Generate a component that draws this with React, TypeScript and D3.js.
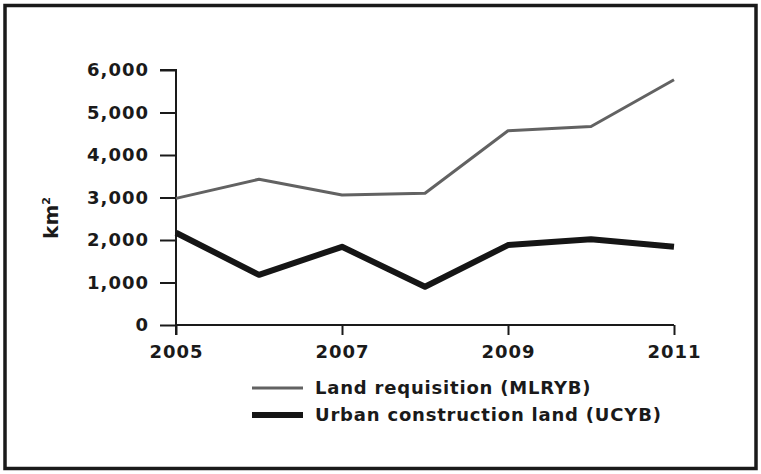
import React, { useEffect, useRef } from "react";
import * as d3 from "d3";

// values (km2)
const years = [2005, 2006, 2007, 2008, 2009, 2010, 2011];
const landRequisition = [2980, 3430, 3060, 3100, 4570, 4670, 5770];
const urbanConstruction = [2170, 1180, 1840, 900, 1880, 2020, 1840];
const yTicks = [0, 1000, 2000, 3000, 4000, 5000, 6000];
const xTicks = [2005, 2007, 2009, 2011];
const seriesNames = ["Land requisition (MLRYB)", "Urban construction land (UCYB)"];

const W = 761;
const H = 474;
const FONT = "'DejaVu Sans', sans-serif";

function App() {
  const ref = useRef<SVGSVGElement>(null);

  useEffect(() => {
    const svg = d3.select(ref.current);
    svg.selectAll("*").remove();

    svg.append("rect").attr("width", W).attr("height", H).attr("fill", "#fff");

    // outer frame of the figure
    svg
      .append("rect")
      .attr("x", 5)
      .attr("y", 5.5)
      .attr("width", 751)
      .attr("height", 463)
      .attr("fill", "none")
      .attr("stroke", "#1a1a1a")
      .attr("stroke-width", 3.5);

    const x = d3.scaleLinear().domain([2005, 2011]).range([176, 674]);
    const y = d3.scaleLinear().domain([0, 6000]).range([325, 70]);

    const styleText = (sel: any) =>
      sel
        .attr("font-family", FONT)
        .attr("font-weight", "bold")
        .attr("font-size", 18)
        .attr("letter-spacing", 1)
        .attr("fill", "#1a1a1a");

    // y axis
    const yAxis = svg
      .append("g")
      .attr("transform", `translate(${x(2005)},0)`)
      .call(
        d3
          .axisLeft(y)
          .tickValues(yTicks)
          .tickSize(16)
          .tickPadding(11)
          .tickFormat(d3.format(","))
      );
    yAxis.select(".domain").attr("stroke", "#1a1a1a").attr("stroke-width", 2).attr("d", `M-16,${y(6000)}H0V${y(0) + 10}`);
    yAxis.selectAll(".tick line").attr("stroke", "#1a1a1a").attr("stroke-width", 2);
    styleText(yAxis.selectAll("text"));

    // x axis
    const xAxis = svg
      .append("g")
      .attr("transform", `translate(0,${y(0)})`)
      .call(
        d3
          .axisBottom(x)
          .tickValues(xTicks)
          .tickSize(10)
          .tickPadding(10)
          .tickFormat(d3.format("d"))
      );
    xAxis.select(".domain").attr("stroke", "#1a1a1a").attr("stroke-width", 2).attr("d", `M${x(2005)},0H${x(2011)}`);
    xAxis.selectAll(".tick line").attr("stroke", "#1a1a1a").attr("stroke-width", 2);
    styleText(xAxis.selectAll("text"));

    // y label km²
    const yl = svg
      .append("text")
      .attr("transform", "translate(58,218) rotate(-90)")
      .attr("text-anchor", "middle")
      .attr("font-family", FONT)
      .attr("font-weight", "bold")
      .attr("font-size", 20)
      .attr("fill", "#1a1a1a");
    yl.append("tspan").text("km");
    yl.append("tspan").attr("dy", -8).attr("font-size", 11).text("2");

    const line = d3
      .line<number>()
      .x((d, i) => x(years[i]))
      .y((d) => y(d));

    svg
      .append("path")
      .datum(landRequisition)
      .attr("d", line)
      .attr("fill", "none")
      .attr("stroke", "#626262")
      .attr("stroke-width", 3)
      .attr("stroke-linejoin", "round");

    svg
      .append("path")
      .datum(urbanConstruction)
      .attr("d", line)
      .attr("fill", "none")
      .attr("stroke", "#151515")
      .attr("stroke-width", 6)
      .attr("stroke-linejoin", "round");

    // legend
    const legend = svg.append("g").attr("transform", "translate(252,388)");
    seriesNames.forEach((name, i) => {
      const g = legend.append("g").attr("transform", `translate(0,${i * 27})`);
      g.append("line")
        .attr("x1", 0)
        .attr("x2", 51)
        .attr("stroke", i === 0 ? "#626262" : "#151515")
        .attr("stroke-width", i === 0 ? 3 : 6);
      styleText(
        g.append("text")
          .attr("x", 63)
          .attr("dy", "0.35em")
          .text(name)
      ).attr("letter-spacing", 0.8);
    });
  }, []);

  return (
    <svg
      ref={ref}
      width={W}
      height={H}
      style={{ position: "absolute", left: 0, top: 0 }}
    />
  );
}

export default App;
